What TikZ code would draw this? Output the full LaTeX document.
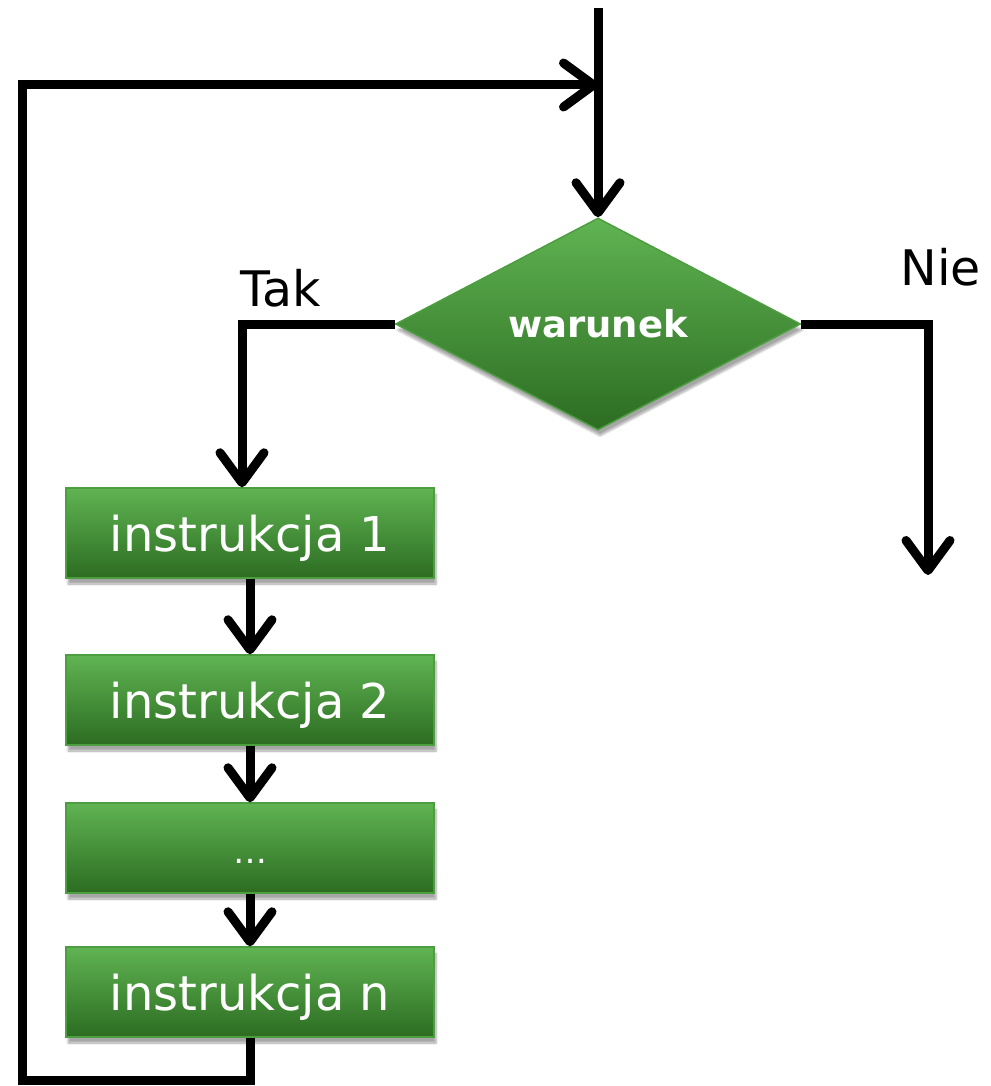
\documentclass[tikz,border=0pt]{standalone}
\usepackage{fontspec}
\setmainfont{DejaVu Sans}
\usetikzlibrary{shapes.geometric,arrows.meta,shadows.blur}
\definecolor{gtop}{HTML}{60B452}
\definecolor{gbot}{HTML}{2C6C22}
\definecolor{gedge}{HTML}{4C9E40}
\begin{document}
\begin{tikzpicture}[x=1pt, y=-1pt, line width=9pt,
  box/.style = {rectangle, draw=gedge, line width=1.5pt, top color=gtop, bottom color=gbot,
    text=white, minimum width=368pt, minimum height=90pt, text depth=0pt,
    font=\fontsize{48}{54}\selectfont,
    blur shadow={shadow xshift=2pt, shadow yshift=-6pt, shadow opacity=35, shadow blur steps=6}},
  cond/.style = {diamond, aspect=2, inner sep=0pt, draw=gedge, line width=1.5pt, top color=gtop,
    bottom color=gbot, text=white, minimum width=405pt, minimum height=212pt,
    font=\fontsize{37}{42}\selectfont\bfseries,
    blur shadow={shadow xshift=2pt, shadow yshift=-6pt, shadow opacity=35, shadow blur steps=6}},
  lbl/.style = {inner sep=0pt, font=\fontsize{49}{54}\selectfont},
  arr/.style = {-{Straight Barb[length=30pt,width=44pt,round]}}]
  \useasboundingbox (0,0) rectangle (990,1086);
  \node[cond] (0) at (598,324) {warunek};
  \node[box] (1) at (250,533) {instrukcja 1};
  \node[box] (2) at (250,700) {instrukcja 2};
  \node[box] (3) at (250,848) {\fontsize{34}{40}\selectfont\raisebox{-15pt}{…}};
  \node[box] (4) at (250,992) {instrukcja n};
  \node[lbl, anchor=base west] (t) at (236,306) {Tak};
  \node[lbl, anchor=base west] (n) at (896,285) {Nie};
  \coordinate (5) at (598,8);
  \coordinate (6) at (598,85);
  \coordinate (7) at (22,1080);
  \coordinate (8) at (928,575);
  \draw[arr] (5) -- (0.north);
  \draw[arr] (0.west) -| ([xshift=-8pt]1.north);
  \draw[arr] (0.east) -| (8);
  \draw[arr] (1) -- (2);
  \draw[arr] (2) -- (3);
  \draw[arr] (3) -- (4);
  \draw[arr] (4.south) |- (7) |- (6);
\end{tikzpicture}
\end{document}
